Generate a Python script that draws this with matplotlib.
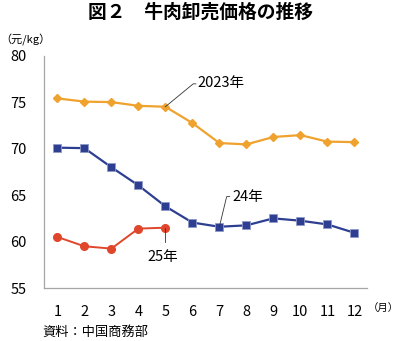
import numpy as np
import matplotlib
matplotlib.use("Agg")
import matplotlib.pyplot as plt

plt.rcParams['font.family'] = ['Noto Sans CJK JP', 'DejaVu Sans']

months = np.arange(1, 13)
price_2023 = [75.4, 75.05, 75.0, 74.6, 74.5, 72.75, 70.6, 70.45, 71.25, 71.45, 70.75, 70.7]
price_2024 = [70.1, 70.05, 68.0, 66.05, 63.8, 62.05, 61.6, 61.75, 62.5, 62.25, 61.85, 60.95]
months_2025 = np.arange(1, 6)
price_2025 = [60.5, 59.5, 59.25, 61.4, 61.5]

c23 = '#efa22e'
c24 = '#2e3f92'
c25 = '#e0462b'

fig = plt.figure(figsize=(4.0, 3.41), dpi=100)
ax = fig.add_axes([0.111, 0.155, 0.806, 0.682])

ax.plot(months, price_2023, color=c23, lw=1.6, marker='D', ms=4.5,
        mfc=c23, mec=c23, zorder=3)
ax.plot(months, price_2024, color=c24, lw=1.6, marker='s', ms=5.5,
        mfc=c24, mec='#8f9ac8', mew=0.6, zorder=3)
ax.plot(months_2025, price_2025, color=c25, lw=1.4, marker='o', ms=5.5,
        mfc=c25, mec=c25, zorder=3)

ax.set_xlim(0.52, 12.46)
ax.set_ylim(55, 80)
ax.set_xticks(months)
ax.set_yticks([55, 60, 65, 70, 75, 80])
ax.tick_params(axis='both', length=0, labelsize=10.5)
ax.tick_params(axis='y', pad=13)
ax.tick_params(axis='x', pad=12)
for side in ['top', 'right']:
    ax.spines[side].set_visible(False)
for side in ['left', 'bottom']:
    ax.spines[side].set_color('#a6a6a6')
    ax.spines[side].set_linewidth(0.9)

# series labels with leader lines
lc = '#333333'
ax.plot([5, 6.03, 6.13], [price_2023[4], 76.96, 76.96], color=lc, lw=0.6, zorder=4)
ax.text(6.2, 77.0, '2023年', fontsize=10.5, ha='left', va='center')

ax.plot([7, 7.27, 7.38], [price_2024[6], 64.84, 64.84], color=lc, lw=0.6, zorder=4)
ax.text(7.48, 64.75, '24年', fontsize=10.5, ha='left', va='center')

ax.plot([5, 5], [price_2025[4], 60.0], color=lc, lw=0.6, zorder=4)
ax.text(4.92, 58.4, '25年', fontsize=10.5, ha='center', va='center')

fig.text(0.5, 0.965, '図２　牛肉卸売価格の推移', fontsize=13.5, fontweight='bold',
         ha='center', va='center')
fig.text(0.0, 0.883, '（元/kg）', fontsize=8, ha='left', va='center')
fig.text(0.998, 0.097, '（月）', fontsize=7.5, ha='right', va='center')
fig.text(0.105, 0.024, '資料：中国商務部', fontsize=9.5, ha='left', va='center')

fig.savefig('out.png', dpi=100)
